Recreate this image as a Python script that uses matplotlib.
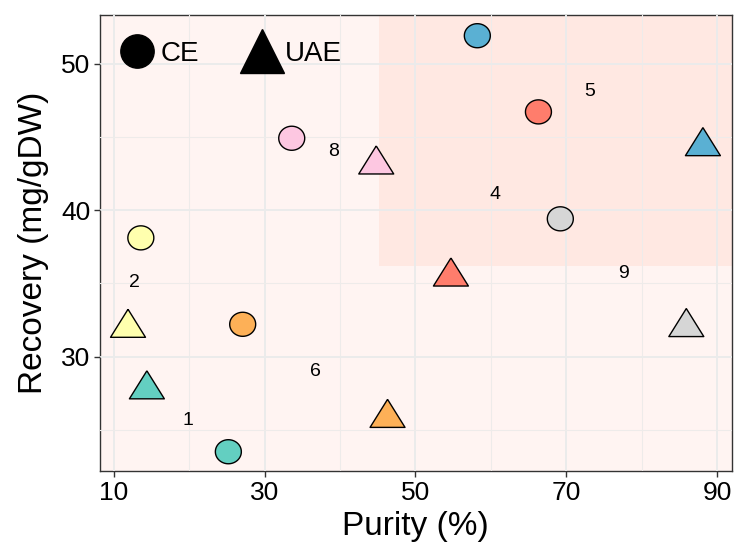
import numpy as np
import matplotlib.pyplot as plt
from matplotlib.lines import Line2D
from matplotlib.patches import Rectangle

plt.rcParams['font.family'] = ['Liberation Sans', 'DejaVu Sans']

# data
pairs = ['1', '2', '4', '5', '6', '8', '9']
colors = ['#63CFC1', '#FFFFAE', '#FF7D6C', '#5AB0D3', '#FDB057', '#FDC7E1', '#D6D6D6']
ce_purity = [25.2, 13.6, 66.3, 58.2, 27.1, 33.6, 69.2]
ce_recovery = [23.5, 38.1, 46.7, 51.9, 32.2, 44.9, 39.4]
uae_purity = [14.4, 11.9, 54.7, 88.1, 46.3, 44.8, 85.9]
uae_recovery = [27.75, 31.95, 35.45, 44.35, 25.8, 43.1, 32.0]

xticks = [10, 30, 50, 70, 90]
yticks = [30, 40, 50]
# highlighted region (lower-left corner)
region_x, region_y = 45.2, 36.2

# markers shaped like R's pch 21 / 24 (picture is a bit wider than tall)
stretch = 1.08
t = np.linspace(0, 2 * np.pi, 80)
circle = list(zip(stretch * np.cos(t), np.sin(t)))
tri = [(0, 1.555), (-1.347 * stretch, -0.778), (1.347 * stretch, -0.778), (0, 1.555)]

fig = plt.figure(figsize=(7.36, 5.43), dpi=100)
ax = fig.add_axes([0.136, 0.133, 0.858, 0.839])
ax.set_facecolor('#FFF4F2')

ax.add_patch(Rectangle((region_x, region_y), 200, 100, facecolor='#FFE8E2',
                       edgecolor='none', zorder=0.5))

ax.set_xlim(8.2, 91.9)
ax.set_ylim(22.2, 53.3)
ax.set_xticks(xticks)
ax.set_yticks(yticks)
ax.set_xticks([20, 40, 60, 80], minor=True)
ax.set_yticks([25, 35, 45], minor=True)
ax.grid(True, which='major', color='#EBEBEB', lw=1.4, zorder=1)
ax.grid(True, which='minor', color='#EEEBEA', lw=0.8, zorder=1)
ax.set_axisbelow(False)
for gl in ax.get_xgridlines() + ax.get_ygridlines():
    gl.set_zorder(1)

ax.scatter(ce_purity, ce_recovery, s=350, marker=circle, c=colors,
           edgecolors='black', linewidths=1.0, zorder=3)
ax.scatter(uae_purity, uae_recovery, s=724, marker=tri, c=colors,
           edgecolors='black', linewidths=1.0, zorder=3)

for i, p in enumerate(pairs):
    mx = (ce_purity[i] + uae_purity[i]) / 2
    my = (ce_recovery[i] + uae_recovery[i]) / 2
    ax.text(mx, my, p, fontsize=14, ha='center', va='center', color='black', zorder=4)

for s in ax.spines.values():
    s.set_color('#333333')
    s.set_linewidth(1.0)
ax.tick_params(which='major', length=4, width=1.0, color='#333333',
               labelsize=19, labelcolor='black', pad=3)
ax.tick_params(which='minor', length=0)

ax.set_xlabel('Purity (%)', fontsize=24, labelpad=5)
ax.set_ylabel('Recovery (mg/gDW)', fontsize=24, labelpad=9)

handles = [
    Line2D([], [], ls='none', marker='o', color='black', markersize=24, label='CE'),
    Line2D([], [], ls='none', marker='^', color='black', markersize=31, label='UAE'),
]
ax.legend(handles=handles, loc='upper left', bbox_to_anchor=(-0.012, 1.01), ncol=2,
          frameon=False, fontsize=20, handlelength=1.0, handletextpad=0.35,
          columnspacing=1.75, borderpad=0.6)

fig.savefig('out.png', dpi=100)
